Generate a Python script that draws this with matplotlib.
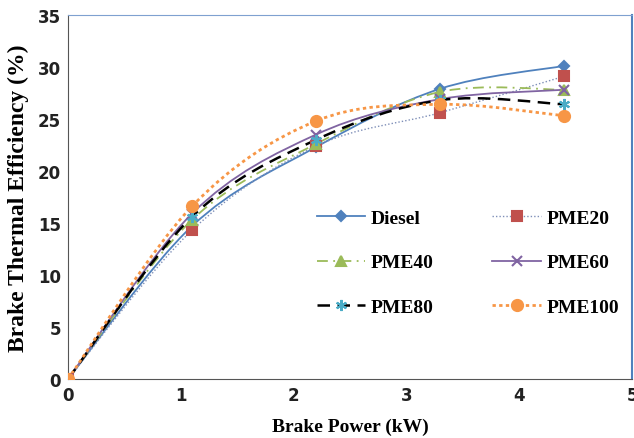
import numpy as np
import matplotlib
matplotlib.use("Agg")
import matplotlib.pyplot as plt
from matplotlib.path import Path
from matplotlib.patches import PathPatch
from matplotlib.lines import Line2D

# brake power (kW)
power = [0, 1.1, 2.2, 3.3, 4.4]

# brake thermal efficiency (%)
diesel = [0, 14.7, 22.3, 27.9, 30.1]
pme20 = [0, 14.3, 22.4, 25.6, 29.1]
pme40 = [0, 15.3, 22.6, 27.6, 27.8]
pme60 = [0, 15.9, 23.5, 26.9, 27.8]
pme80 = [0, 15.6, 23.0, 26.8, 26.4]
pme100 = [0, 16.6, 24.8, 26.4, 25.3]

labels = ["Diesel", "PME20", "PME40", "PME60", "PME80", "PME100"]
x_ticks = [0, 1, 2, 3, 4, 5]
y_ticks = [0, 5, 10, 15, 20, 25, 30, 35]


def smooth_path(x, y):
    # excel style smoothed line: cubic bezier through every point
    pts = np.column_stack([x, y]).astype(float)
    verts = [pts[0]]
    codes = [Path.MOVETO]
    n = len(pts)
    for i in range(n - 1):
        p0 = pts[max(i - 1, 0)]
        p1 = pts[i]
        p2 = pts[i + 1]
        p3 = pts[min(i + 2, n - 1)]
        c1 = p1 + (p2 - p0) / 6.0
        c2 = p2 - (p3 - p1) / 6.0
        verts += [c1, c2, p2]
        codes += [Path.CURVE4] * 3
    return Path(verts, codes)


styles = [
    dict(color="#4F81BD", ls="-", lw=1.3, marker="D", mc="#4F81BD", ms=5),
    dict(color="#7F8FB8", ls=(0, (1, 1.5)), lw=1.0, marker="s", mc="#C0504D", ms=7),
    dict(color="#9BBB59", ls=(0, (6, 3, 1, 3)), lw=1.3, marker="^", mc="#9BBB59", ms=7),
    dict(color="#8064A2", ls="-", lw=1.3, marker="x", mc="#8064A2", ms=7),
    dict(color="black", ls=(0, (5, 3)), lw=1.8, marker=(6, 2, 0), mc="#4BACC6", ms=8),
    dict(color="#F79646", ls=(0, (1.2, 1.2)), lw=2.0, marker="o", mc="#F79646", ms=8),
]
series = [diesel, pme20, pme40, pme60, pme80, pme100]

fig = plt.figure(figsize=(6.34, 4.39), dpi=100)
ax = fig.add_axes([0.107, 0.134, 0.890, 0.830])

handles = []
for s, st, lab in zip(series, styles, labels):
    patch = PathPatch(smooth_path(power, s), fill=False, edgecolor=st["color"],
                      linestyle=st["ls"], linewidth=st["lw"], zorder=2)
    ax.add_patch(patch)
    ax.plot(power, s, linestyle="none", marker=st["marker"], markersize=st["ms"],
            color=st["mc"], markeredgecolor=st["mc"], markeredgewidth=1.5, zorder=3)
    handles.append(Line2D([], [], color=st["color"], linestyle=st["ls"], linewidth=st["lw"],
                          marker=st["marker"], markersize=st["ms"], markerfacecolor=st["mc"],
                          markeredgecolor=st["mc"], markeredgewidth=1.5))

ax.set_xlim(0, 5)
ax.set_ylim(0, 35)
ax.set_xticks(x_ticks)
ax.set_yticks(y_ticks)
ax.tick_params(length=0, pad=5, labelsize=12)
for t in ax.get_xticklabels() + ax.get_yticklabels():
    t.set_fontfamily("DejaVu Sans")
    t.set_fontweight("bold")
    t.set_color("#222222")

ax.spines["left"].set_color("#555555")
ax.spines["bottom"].set_color("#555555")
ax.spines["top"].set_color("#7FA1D0")
ax.spines["right"].set_color("#4F81BD")
ax.spines["right"].set_linewidth(1.5)

serif = ["Liberation Serif", "DejaVu Serif"]
ax.set_xlabel("Brake Power (kW)", fontfamily=serif, fontweight="bold", fontsize=14, labelpad=10)
ax.set_ylabel("Brake Thermal Efficiency (%)", fontfamily=serif, fontweight="bold", fontsize=17, labelpad=6)

# legend is filled row by row in the original
order = [0, 2, 4, 1, 3, 5]
ax.legend([handles[i] for i in order], [labels[i] for i in order], loc="upper left",
          bbox_to_anchor=(0.41, 0.515), ncol=2, frameon=False, handlelength=2.5,
          handletextpad=0.3, columnspacing=3.0, labelspacing=1.4,
          prop=dict(family=serif, weight="bold", size=14))

fig.savefig("out.png", dpi=100)
